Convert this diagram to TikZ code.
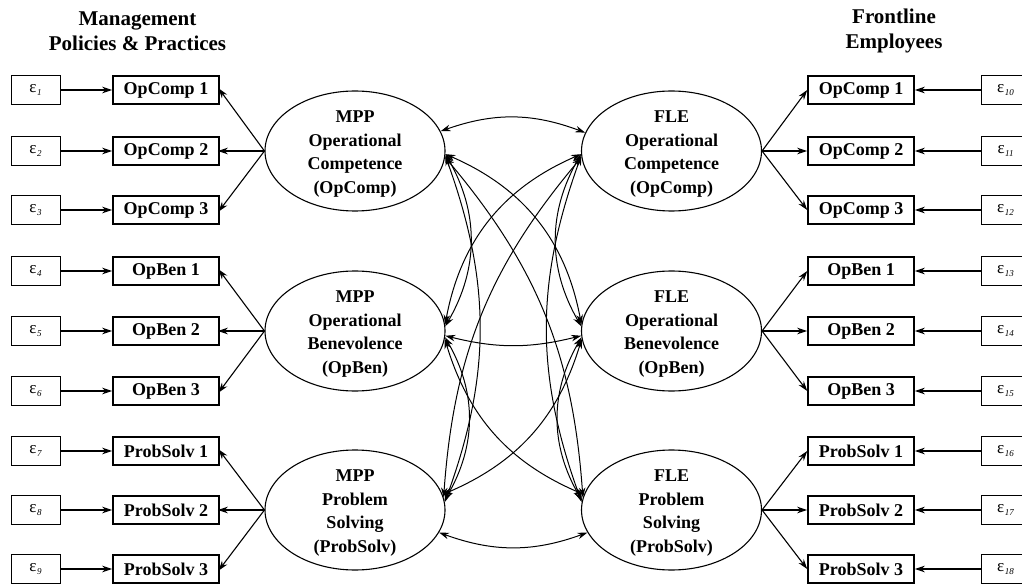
\documentclass[tikz,border=0pt]{standalone}
\usepackage{fontspec}
\setmainfont{Liberation Serif}
\usetikzlibrary{arrows.meta,shapes.geometric}
\newcommand{\epsl}[1]{ε\kern0.5pt\raisebox{-3.5pt}{\fontsize{9}{9}\selectfont\itshape #1}}
\begin{document}
\begin{tikzpicture}[x=1pt,y=1pt,
  >={Stealth[length=10pt,width=6.5pt]},
  ind/.style={draw,line width=1.6pt,minimum width=106,minimum height=28,inner sep=0pt,font=\bfseries\fontsize{18}{20}\selectfont},
  eps/.style={draw,line width=0.8pt,minimum width=49,minimum height=29,inner sep=0pt,font=\fontsize{17}{19}\selectfont},
  lat/.style={draw,ellipse,line width=1.1pt,minimum width=180,minimum height=120,inner sep=0pt},
  lattxt/.style={align=center,font=\bfseries\fontsize{18}{23.5}\selectfont,inner sep=0pt},
  hdr/.style={align=center,font=\bfseries\fontsize{21}{25}\selectfont},
  load/.style={->,line width=1.1pt},
  cov/.style={<->,line width=1pt}]
\useasboundingbox (0,0) rectangle (1022,587);

% headers
\node[hdr] (h1) at (137.5,556) {Management\\Policies \& Practices};
\node[hdr] (h2) at (894,556) {Frontline\\Employees};

% indicators and errors
\foreach \i/\y/\lab/\rl in {1/497/OpComp 1/10,2/436/OpComp 2/11,3/377/OpComp 3/12,
  4/316/OpBen 1/13,5/256/OpBen 2/14,6/196/OpBen 3/15,
  7/136/ProbSolv 1/16,8/77/ProbSolv 2/17,9/18/ProbSolv 3/18}{
  \node[ind] (li\i) at (166,\y) {\lab};
  \node[eps] (le\i) at (35.5,\y) {\epsl{\i}};
  \draw[load] (le\i) -- (li\i);
  \node[ind] (ri\i) at (861,\y) {\lab};
  \node[eps] (re\i) at (1005.5,\y) {\epsl{\rl}};
  \draw[load] (re\i) -- (ri\i);
}

% latent variables
\node[lat] (mo) at (355,436) {};
\node[lat] (mb) at (355,256) {};
\node[lat] (mp) at (355,77) {};
\node[lat] (fo) at (671.5,436) {};
\node[lat] (fb) at (671.5,256) {};
\node[lat] (fp) at (671.5,77) {};
\node[lattxt] (tmo) at ([yshift=-3pt]mo.center) {MPP\\Operational\\Competence\\(OpComp)};
\node[lattxt] (tmb) at ([yshift=-3pt]mb.center) {MPP\\Operational\\Benevolence\\(OpBen)};
\node[lattxt] (tmp) at ([yshift=-3pt]mp.center) {MPP\\Problem\\Solving\\(ProbSolv)};
\node[lattxt] (tfo) at ([yshift=-3pt]fo.center) {FLE\\Operational\\Competence\\(OpComp)};
\node[lattxt] (tfb) at ([yshift=-3pt]fb.center) {FLE\\Operational\\Benevolence\\(OpBen)};
\node[lattxt] (tfp) at ([yshift=-3pt]fp.center) {FLE\\Problem\\Solving\\(ProbSolv)};

% loadings
\foreach \l/\a/\b/\c in {mo/1/2/3,mb/4/5/6,mp/7/8/9}{
  \draw[load,shorten >=-2pt] (\l.west) -- (li\a.east);
  \draw[load,shorten >=-2pt] (\l.west) -- (li\b.east);
  \draw[load,shorten >=-2pt] (\l.west) -- (li\c.east);
}
\foreach \l/\a/\b/\c in {fo/1/2/3,fb/4/5/6,fp/7/8/9}{
  \draw[load] (\l.east) -- (ri\a.west);
  \draw[load] (\l.east) -- (ri\b.west);
  \draw[load] (\l.east) -- (ri\c.west);
}

% covariances
\draw[cov] (mo.13) to[bend left=20] (fo.168);
\draw[cov] (mb.-3) to[bend right=14] (fb.183);
\draw[cov] (mp.-15) to[bend right=20] (fp.195);

\draw[cov] (mo.-2) to[bend left=30] (mb.3);
\draw[cov] (mo.-3) to[bend left=20] (mp.5);
\draw[cov] (mb.-4) to[bend left=30] (mp.6);
\draw[cov] (fo.182) to[bend right=30] (fb.177);
\draw[cov] (fo.183) to[bend right=20] (fp.175);
\draw[cov] (fb.184) to[bend right=30] (fp.174);

\draw[cov] (mo.-2) to[bend left=28] (fb.176);
\draw[cov] (mo.-4) to[bend left=18] (fp.172);
\draw[cov] (fo.182) to[bend right=28] (mb.4);
\draw[cov] (fo.184) to[bend right=18] (mp.8);
\draw[cov] (mb.-5) to[bend right=25] (fp.170);
\draw[cov] (mp.10) to[bend right=25] (fb.185);
\end{tikzpicture}
\end{document}
